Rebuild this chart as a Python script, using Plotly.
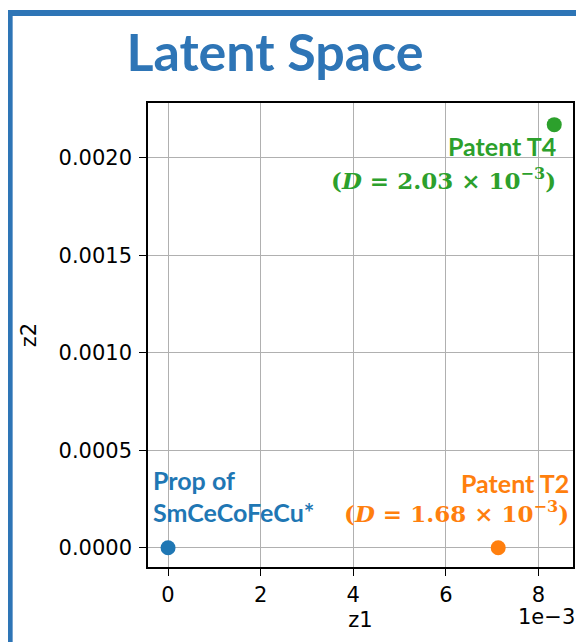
import plotly.graph_objects as go

# ---- data ----
names = ["Prop of<br>SmCeCoFeCu*", "Patent T2", "Patent T4"]
z1 = [0.0, 7.13e-3, 8.34e-3]
z2 = [0.0, 0.0, 2.17e-3]
dist_mant = [None, "1.68", "2.03"]
colors = ["#1f77b4", "#ff7f0e", "#2ca02c"]

x_tickvals = [0, 2e-3, 4e-3, 6e-3, 8e-3]
x_ticktext = ["0", "2", "4", "6", "8"]
y_tickvals = [0.0, 0.0005, 0.0010, 0.0015, 0.0020]
y_ticktext = ["0.0000", "0.0005", "0.0010", "0.0015", "0.0020"]
x_offset_text = "1e\u22123"
title_text = "Latent Space"

# page body has an 8px margin, so the figure is drawn 8px right/down
OFF = 8
W, H = 584 - 2 * OFF, 642 - OFF
L, R, T, B = 148 - OFF, 575 - OFF, 103 - OFF, 567 - OFF  # plot area in figure pixels

def px(xp):
    return (xp - L) / (R - L)

def py(yp):
    return (B - yp) / (B - T)

fig = go.Figure()
for i in range(len(names)):
    fig.add_trace(go.Scatter(x=[z1[i]], y=[z2[i]], mode="markers",
                             marker=dict(size=15, color=colors[i]),
                             showlegend=False, hoverinfo="skip"))

tick_font = dict(family="DejaVu Sans", size=21, color="black")
fig.update_xaxes(range=[-0.433e-3, 8.745e-3], tickvals=x_tickvals, ticktext=x_ticktext,
                 showgrid=True, gridcolor="#b0b0b0", gridwidth=1.3,
                 showline=True, linecolor="black", linewidth=1.5, mirror=True,
                 ticks="outside", ticklen=7, tickcolor="black", tickwidth=1.3,
                 tickfont=tick_font, zeroline=False, ticklabelstandoff=1,
                 title=dict(text="z1", font=tick_font, standoff=6))
fig.update_yaxes(range=[-0.099e-3, 2.281e-3], tickvals=y_tickvals, ticktext=y_ticktext,
                 showgrid=True, gridcolor="#b0b0b0", gridwidth=1.3,
                 showline=True, linecolor="black", linewidth=1.5, mirror=True,
                 ticks="outside", ticklen=7, tickcolor="black", tickwidth=1.3,
                 tickfont=tick_font, zeroline=False, ticklabelstandoff=3,
                 title=dict(text="z2", font=tick_font, standoff=16))

label_font = "Lato"
math_font = "DejaVu Serif"
lab_size = 25
math_size = 23
ann = []
# Prop of SmCeCoFeCu*
ann.append(dict(x=z1[0], y=z2[0], text="<b>Prop of</b>", showarrow=False,
                xanchor="left", yanchor="middle", xshift=-17, yshift=68,
                font=dict(family=label_font, size=lab_size, color=colors[0])))
ann.append(dict(x=z1[0], y=z2[0], text="<b>SmCeCoFeCu*</b>", showarrow=False,
                xanchor="left", yanchor="middle", xshift=-17, yshift=36,
                font=dict(family=label_font, size=lab_size, color=colors[0])))
# Patent T2
ann.append(dict(x=z1[1], y=z2[1], text="<b>Patent T2</b>", showarrow=False,
                xanchor="right", yanchor="middle", xshift=73, yshift=65,
                font=dict(family=label_font, size=lab_size, color=colors[1])))
ann.append(dict(x=z1[1], y=z2[1],
                text="<b>(<i>D</i> = " + dist_mant[1] + " × 10<sup>−3</sup>)</b>",
                showarrow=False, xanchor="right", yanchor="middle", xshift=73, yshift=36,
                font=dict(family=math_font, size=math_size, color=colors[1])))
# Patent T4
ann.append(dict(x=z1[2], y=z2[2], text="<b>Patent T4</b>", showarrow=False,
                xanchor="right", yanchor="middle", xshift=4, yshift=-21,
                font=dict(family=label_font, size=lab_size, color=colors[2])))
ann.append(dict(x=z1[2], y=z2[2],
                text="<b>(<i>D</i> = " + dist_mant[2] + " × 10<sup>−3</sup>)</b>",
                showarrow=False, xanchor="right", yanchor="middle", xshift=4, yshift=-54,
                font=dict(family=math_font, size=math_size, color=colors[2])))
# offset text
ann.append(dict(xref="paper", yref="paper", x=1.0, y=py(617 - OFF), text=x_offset_text,
                showarrow=False, xanchor="right", yanchor="middle", xshift=4,
                font=tick_font))

border = "#2E75B6"
shapes = [
    dict(type="line", xref="paper", yref="paper", x0=px(9.5 - OFF), x1=px(9.5 - OFF),
         y0=py(10 - OFF), y1=py(H + 5), line=dict(color=border, width=5)),
    dict(type="line", xref="paper", yref="paper", x0=px(7 - OFF), x1=px(W + 5),
         y0=py(13 - OFF), y1=py(13 - OFF), line=dict(color=border, width=6)),
]

fig.update_layout(
    width=W, height=H,
    margin=dict(l=L, r=W - R, t=T, b=H - B),
    paper_bgcolor="white", plot_bgcolor="white",
    title=dict(text="<b>" + title_text + "</b>", x=(275 - OFF) / W, xanchor="center",
               y=1 - (53 - OFF) / H, yanchor="middle", xref="container", yref="container",
               font=dict(family="Lato", size=52, color=border)),
    annotations=ann, shapes=shapes,
)

fig.write_html("out.html")
